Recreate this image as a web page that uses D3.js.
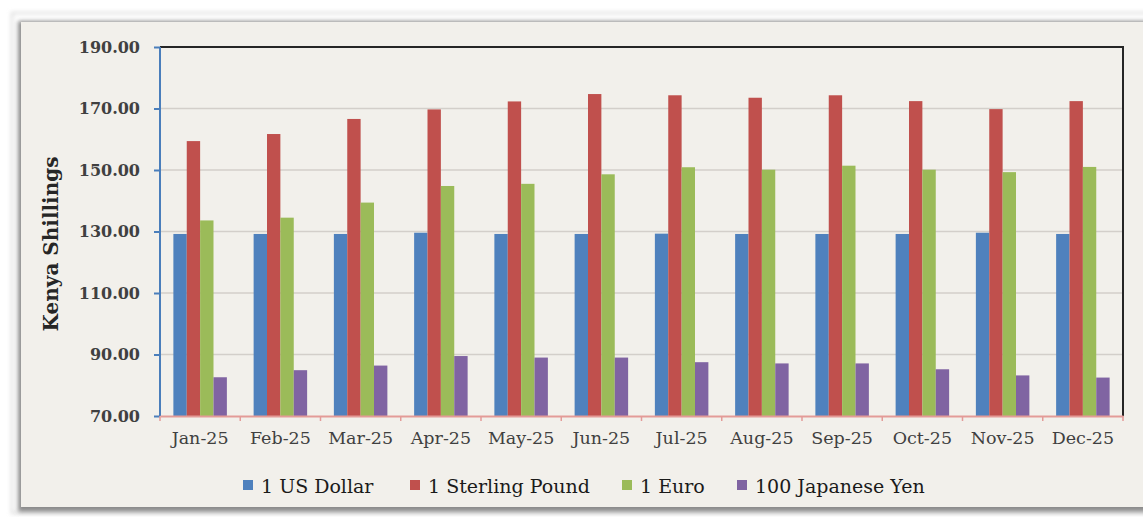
<!DOCTYPE html>
<html>
<head>
<meta charset="utf-8">
<script src="https://cdn.jsdelivr.net/npm/d3@7"></script>
<style>
  body { margin: 0; background: #ffffff; }
  svg { display: block; }
</style>
</head>
<body>
<div id="chart"></div>
<script>
// data
const months = ["Jan-25", "Feb-25", "Mar-25", "Apr-25", "May-25", "Jun-25",
                "Jul-25", "Aug-25", "Sep-25", "Oct-25", "Nov-25", "Dec-25"];
const seriesNames = ["1 US Dollar", "1 Sterling Pound", "1 Euro", "100 Japanese Yen"];
const usDollar = [129.2, 129.2, 129.2, 129.6, 129.2, 129.2, 129.3, 129.2, 129.2, 129.2, 129.6, 129.2];
const sterling = [159.4, 161.7, 166.6, 169.7, 172.3, 174.7, 174.3, 173.5, 174.3, 172.4, 169.8, 172.4];
const euro     = [133.6, 134.5, 139.4, 144.8, 145.5, 148.6, 150.9, 150.1, 151.4, 150.1, 149.3, 151.0];
const yen100   = [82.6, 84.9, 86.4, 89.5, 89.0, 89.0, 87.5, 87.1, 87.1, 85.2, 83.2, 82.5];
const yTicks = [70, 90, 110, 130, 150, 170, 190];

const seriesValues = [usDollar, sterling, euro, yen100];
const colors = ["#4f81bd", "#c0504d", "#9bbb59", "#8064a2"];

const W = 1143, H = 517;
const plotL = 160, plotR = 1123, plotT = 47, plotB = 416;
const serif = "'DejaVu Serif', 'Liberation Serif', serif";

const svg = d3.select("#chart").append("svg")
  .attr("width", W)
  .attr("height", H);

const defs = svg.append("defs");
const blur = defs.append("filter").attr("id", "soft").attr("x", "-5%").attr("y", "-5%").attr("width", "110%").attr("height", "110%");
blur.append("feGaussianBlur").attr("stdDeviation", 2);

// frame and panel
svg.append("rect").attr("width", W).attr("height", H).attr("fill", "#ffffff");
svg.append("rect")
  .attr("x", 12).attr("y", 13).attr("width", W).attr("height", 500)
  .attr("fill", "none").attr("stroke", "#d8d8d8").attr("stroke-width", 2)
  .attr("filter", "url(#soft)");
svg.append("rect")
  .attr("x", 18).attr("y", 21).attr("width", W).attr("height", 491)
  .attr("fill", "#8c8c8c").attr("filter", "url(#soft)");
svg.append("rect")
  .attr("x", 21).attr("y", 22).attr("width", W).attr("height", 485)
  .attr("fill", "#f2f0eb");

const x = d3.scaleBand().domain(months).range([plotL, plotR]).padding(0);
const xs = d3.scaleBand().domain(seriesNames).range([0, x.bandwidth()]).paddingOuter(1).paddingInner(0);
const y = d3.scaleLinear().domain([70, 190]).range([plotB, plotT]);

// gridlines
svg.append("g")
  .selectAll("line")
  .data(yTicks.slice(1, -1))
  .join("line")
  .attr("x1", plotL).attr("x2", plotR)
  .attr("y1", d => y(d)).attr("y2", d => y(d))
  .attr("stroke", "#d3cfca").attr("stroke-width", 1.5);

// top and right border
svg.append("path")
  .attr("d", `M${plotL},${y(190)}H${plotR}V${plotB}`)
  .attr("fill", "none").attr("stroke", "#262626").attr("stroke-width", 2);

// bars
const groups = svg.append("g")
  .selectAll("g")
  .data(months)
  .join("g")
  .attr("transform", d => `translate(${x(d)},0)`);

groups.selectAll("rect")
  .data((m, i) => seriesNames.map((s, k) => ({ s, v: seriesValues[k][i], c: colors[k] })))
  .join("rect")
  .attr("x", d => xs(d.s))
  .attr("width", xs.bandwidth())
  .attr("y", d => y(d.v))
  .attr("height", d => y(70) - y(d.v))
  .attr("fill", d => d.c);

// y axis
const yAxis = svg.append("g")
  .attr("transform", `translate(${plotL},0)`)
  .call(d3.axisLeft(y).tickValues(yTicks).tickFormat(d3.format(".2f")).tickSize(6).tickPadding(14));
yAxis.select(".domain").attr("stroke", "#4a7ebb").attr("stroke-width", 2).attr("d", `M0,${plotT}V${plotB}`);
yAxis.selectAll(".tick line").attr("stroke", "#4a7ebb").attr("stroke-width", 2);
yAxis.selectAll(".tick text")
  .attr("font-family", serif).attr("font-size", "16px").attr("font-weight", "bold")
  .attr("fill", "#404040");

// x axis
const xAxis = svg.append("g")
  .attr("transform", `translate(0,${plotB})`)
  .call(d3.axisBottom(x).tickSize(0).tickPadding(16));
xAxis.select(".domain").attr("stroke", "#e39b98").attr("stroke-width", 2);
xAxis.selectAll(".tick text")
  .attr("font-family", serif).attr("font-size", "17.5px")
  .attr("fill", "#404040");
xAxis.append("g")
  .selectAll("line")
  .data(months.map(m => x(m)).concat([plotR]))
  .join("line")
  .attr("x1", d => d).attr("x2", d => d)
  .attr("y1", 0).attr("y2", 5)
  .attr("stroke", "#e39b98").attr("stroke-width", 1.5);

// y axis title
svg.append("text")
  .attr("transform", "translate(58,244) rotate(-90)")
  .attr("text-anchor", "middle")
  .attr("font-family", serif).attr("font-size", "20px").attr("font-weight", "bold")
  .attr("fill", "#262626")
  .text("Kenya Shillings");

// legend
const legendX = [243, 410, 622, 737];
const legend = svg.append("g")
  .selectAll("g")
  .data(seriesNames)
  .join("g")
  .attr("transform", (d, i) => `translate(${legendX[i]},480)`);
legend.append("rect")
  .attr("width", 10).attr("height", 10)
  .attr("fill", (d, i) => colors[i]);
legend.append("text")
  .attr("x", 18).attr("y", 13)
  .attr("font-family", serif).attr("font-size", "19px")
  .attr("fill", "#1a1a1a")
  .text(d => d);
</script>
</body>
</html>
